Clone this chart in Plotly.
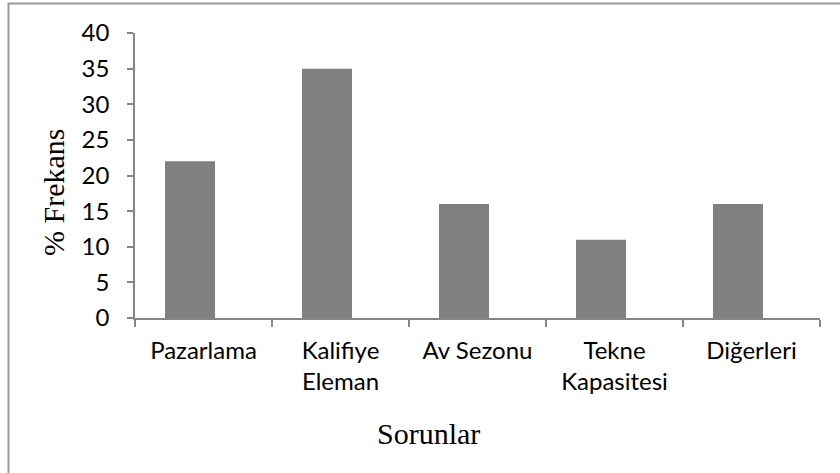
import plotly.graph_objects as go

categories = ["Pazarlama", "Kalifiye<br>Eleman", "Av Sezonu", "Tekne<br>Kapasitesi", "Diğerleri"]
values = [22, 35, 16, 11, 16]
y_ticks = [0, 5, 10, 15, 20, 25, 30, 35, 40]

# plot area in window pixels
L, R, T, B = 135, 820, 33, 318
W, H = 840, 473
pw, ph = R - L, B - T

def px_x(x):
    return (x - L) / pw

def px_y(y):
    return (B - y) / ph

fig = go.Figure()
fig.add_trace(go.Bar(
    x=categories, y=values,
    marker=dict(color="#808080", line=dict(width=0)),
    width=0.365, offset=-0.281,
))

axis_color = "#868686"
serif = "'Liberation Serif', 'Times New Roman', serif"
fig.update_layout(
    width=W, height=H, autosize=False,
    margin=dict(l=L, r=W - R, t=T, b=H - B),
    paper_bgcolor="white", plot_bgcolor="white",
    showlegend=False,
    font=dict(family="Lato, 'Open Sans', sans-serif", size=24, color="#000000"),
    xaxis=dict(
        showline=True, linecolor=axis_color, linewidth=1.5,
        ticks="outside", tickson="boundaries", ticklen=7, tickcolor=axis_color, tickwidth=1.5,
        showgrid=False, tickfont=dict(size=24), ticklabelstandoff=10,
    ),
    yaxis=dict(
        range=[0, 40], tickvals=y_ticks,
        showline=True, linecolor=axis_color, linewidth=1.5,
        ticks="outside", ticklen=6, tickcolor=axis_color, tickwidth=1.5,
        showgrid=False, zeroline=False, tickfont=dict(size=24),
        ticklabelstandoff=13,
    ),
    annotations=[
        dict(text="% Frekans", xref="paper", yref="paper", x=px_x(53), y=px_y(193),
             textangle=-90, showarrow=False, xanchor="center", yanchor="middle",
             font=dict(family=serif, size=30)),
        dict(text="Sorunlar", xref="paper", yref="paper", x=px_x(428), y=px_y(433),
             showarrow=False, xanchor="center", yanchor="middle",
             font=dict(family=serif, size=30)),
    ],
    shapes=[dict(type="rect", xref="paper", yref="paper",
                 x0=px_x(8.5), x1=px_x(W + 40), y0=px_y(H + 40), y1=px_y(3.5),
                 line=dict(color="#9a9a9a", width=2), fillcolor="rgba(0,0,0,0)", layer="below")],
)

fig.write_html("out.html", config={"displayModeBar": False},
               post_script="document.body.style.margin='0';document.body.style.overflow='hidden';")
